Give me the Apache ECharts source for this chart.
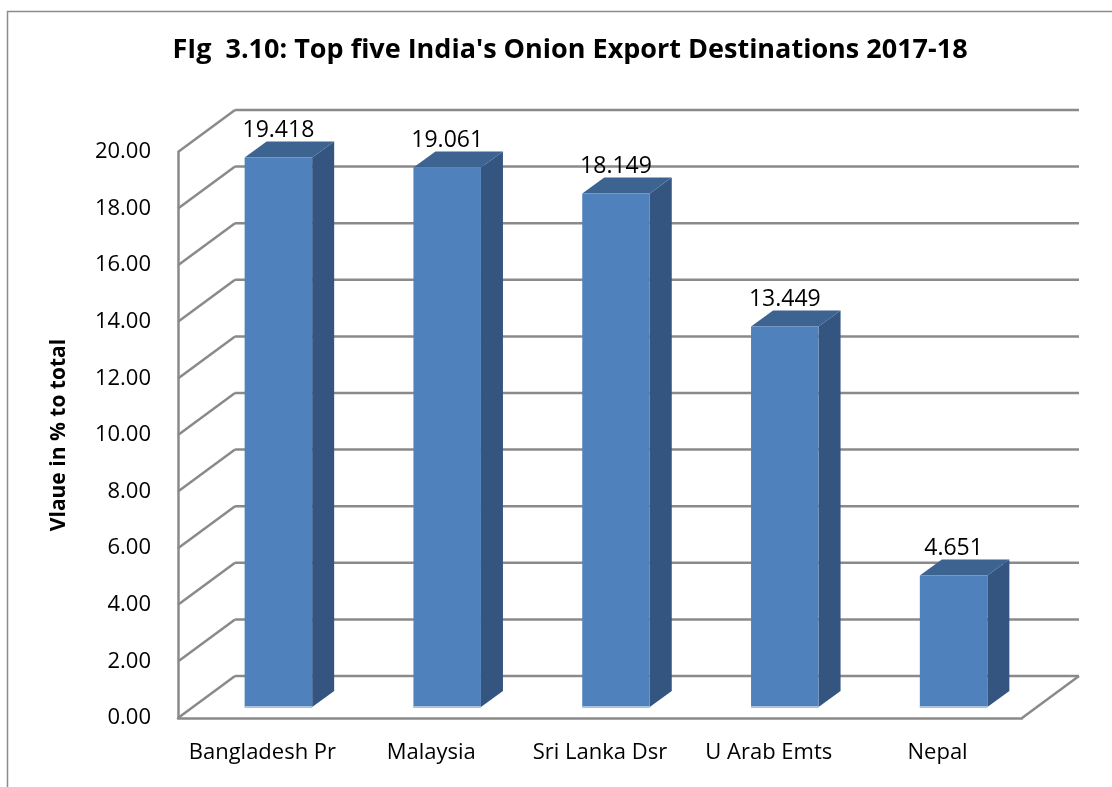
<!DOCTYPE html>
<html>
<head>
<meta charset="utf-8">
<script src="https://cdn.jsdelivr.net/npm/echarts@6/dist/echarts.min.js"></script>
<style>
html,body{margin:0;padding:0;background:#fff;}
#main{width:1112px;height:787px;}
</style>
</head>
<body>
<div id="main"></div>
<script>
// 数据
var categories = ['Bangladesh Pr', 'Malaysia', 'Sri Lanka Dsr', 'U Arab Emts', 'Nepal'];
var shareValues = [19.418, 19.061, 18.149, 13.449, 4.651];
var yTicks = [0, 2, 4, 6, 8, 10, 12, 14, 16, 18, 20];

var FONT = '"Open Sans", sans-serif';
var WALL = [57, -42];   // 背墙偏移
var FRONT = [16, -11];  // 柱子前面偏移
var SIDE = [22, -16];   // 柱子厚度
var GRID_COLOR = '#8a8a8a';

var chart = echarts.init(document.getElementById('main'));

//背墙网格线
function renderWall(params, api) {
	var v = api.value(1);
	var p = api.coord([0, v]);
	var bw = api.size([1, 0])[0];
	var x0 = p[0] - bw / 2;
	var x1 = api.coord([categories.length - 1, v])[0] + bw / 2;
	var y = p[1];
	var st = {stroke: GRID_COLOR, lineWidth: 2.5, fill: null};
	var children = [
		{type: 'line', shape: {x1: x0, y1: y, x2: x0 + WALL[0], y2: y + WALL[1]}, style: st},
		{type: 'line', shape: {x1: x0 + WALL[0], y1: y + WALL[1], x2: x1 + WALL[0], y2: y + WALL[1]}, style: st}
	];
	if (v === 0) {
		children.push({type: 'line', shape: {x1: x1, y1: y, x2: x1 + WALL[0], y2: y + WALL[1]}, style: st});
	}
	return {type: 'group', children: children};
}

//3D柱子
function renderBar(params, api) {
	var i = api.value(0);
	var val = api.value(1);
	var base = api.coord([i, 0]);
	var top = api.coord([i, val]);
	var bw = api.size([1, 0])[0];
	var w = bw * 0.4;
	var xl = base[0] - w / 2 + FRONT[0];
	var xr = xl + w;
	var yb = base[1] + FRONT[1];
	var yt = top[1] + FRONT[1];
	return {
		type: 'group',
		children: [
			{type: 'polygon', shape: {points: [[xr, yt], [xr + SIDE[0], yt + SIDE[1]], [xr + SIDE[0], yb + SIDE[1]], [xr, yb]]},
				style: {fill: '#34557f'}},
			{type: 'polygon', shape: {points: [[xl, yt], [xl + SIDE[0], yt + SIDE[1]], [xr + SIDE[0], yt + SIDE[1]], [xr, yt]]},
				style: {fill: '#3d6391'}},
			{type: 'rect', shape: {x: xl, y: yt, width: w, height: yb - yt},
				style: {fill: '#4f81bd'}},
			{type: 'line', shape: {x1: xl, y1: yb, x2: xr, y2: yb},
				style: {stroke: '#a9c2e0', lineWidth: 2}},
			{type: 'text', x: (xl + xr) / 2, y: yt + SIDE[1] - 11,
				style: {text: val.toFixed(3), fill: '#000', font: '23px ' + FONT, align: 'center', verticalAlign: 'middle'}}
		]
	};
}

var option = {
	backgroundColor: '#fff',
	animation: false,
	title: {
		text: "FIg  3.10: Top five India's Onion Export Destinations 2017-18",
		left: 565,
		top: 32,
		textAlign: 'center',
		textStyle: {fontFamily: FONT, fontWeight: 'bold', fontSize: 27, color: '#000'}
	},
	graphic: [{
		type: 'rect', left: 5, top: 9, silent: true,
		shape: {width: 1200, height: 900},
		style: {fill: null, stroke: '#8c8c8c', lineWidth: 1.5}
	}],
	grid: {left: 178, right: 90, top: 152, bottom: 69},
	xAxis: {
		type: 'category',
		data: categories,
		axisLine: {show: true, lineStyle: {color: GRID_COLOR, width: 2.5}},
		axisTick: {show: false},
		axisLabel: {color: '#000', fontFamily: FONT, fontSize: 22, margin: 24, interval: 0}
	},
	yAxis: {
		type: 'value',
		min: 0, max: 20, interval: 2,
		name: 'Vlaue in % to total',
		nameLocation: 'middle',
		nameGap: 108,
		nameTextStyle: {fontFamily: FONT, fontWeight: 'bold', fontSize: 21, color: '#000'},
		axisLine: {show: true, lineStyle: {color: GRID_COLOR, width: 2.5}},
		axisTick: {show: false},
		splitLine: {show: false},
		axisLabel: {color: '#000', fontFamily: FONT, fontSize: 22, margin: 27,
			formatter: function (v) { return v.toFixed(2); }}
	},
	series: [
		{
			type: 'custom', z: 1,
			renderItem: renderWall,
			encode: {x: 0, y: 1},
			data: yTicks.map(function (v) { return [0, v]; })
		},
		{
			type: 'custom', z: 5,
			renderItem: renderBar,
			encode: {x: 0, y: 1},
			data: shareValues.map(function (v, i) { return [i, v]; })
		}
	]
};
chart.setOption(option);
</script>
</body>
</html>
